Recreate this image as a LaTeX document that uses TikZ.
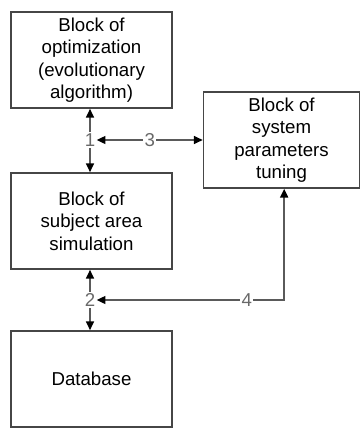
\documentclass[tikz,border=0pt]{standalone}
\usepackage{fontspec}
\setmainfont{Liberation Sans}
\usepackage{xcolor}
\usetikzlibrary{arrows.meta}
\definecolor{boxgrey}{RGB}{70,70,70}
\definecolor{linegrey}{RGB}{90,90,90}
\definecolor{labelgrey}{RGB}{105,105,105}

\begin{document}
\begin{tikzpicture}[x=0.75pt,y=-0.75pt,
  >={Triangle[length=6.5pt,width=6pt,color=black]},
  block/.style={draw=boxgrey, line width=1.3pt, minimum width=120.75pt, minimum height=72pt,
    align=center, inner sep=2pt, font=\fontsize{14}{16.8}\selectfont},
  mark label/.style={text=labelgrey, inner sep=1pt, font=\fontsize{14}{16.8}\selectfont},
  link/.style={draw=linegrey, line width=1.1pt}]
\useasboundingbox (0,0) rectangle (360,428);

\node[block] (optim) at (91.5,60) {Block of\\optimization\\(evolutionary\\algorithm)};
\node[block] (simul) at (91.5,221) {Block of\\subject area\\simulation};
\node[block] (dbase) at (91.5,379) {Database};
\node[block, minimum width=117pt] (tuning) at (281.5,140) {Block of\\system\\parameters\\tuning};

\node[mark label] (one) at (90,140) {1};
\node[mark label] (two) at (90,300) {2};

% links between blocks
\draw[link, ->] (one) -- (optim.south -| one);
\draw[link, ->] (one) -- (simul.north -| one);
\draw[link, ->] (two) -- (simul.south -| two);
\draw[link, ->] (two) -- (dbase.north -| two);
\draw[link, <->] (one) -- node[mark label, fill=white] {3} (tuning.west |- one);
\draw[link, <->] ([xshift=2pt]tuning.south) |- node[mark label, fill=white, pos=0.6] {4} (two);
\end{tikzpicture}
\end{document}
